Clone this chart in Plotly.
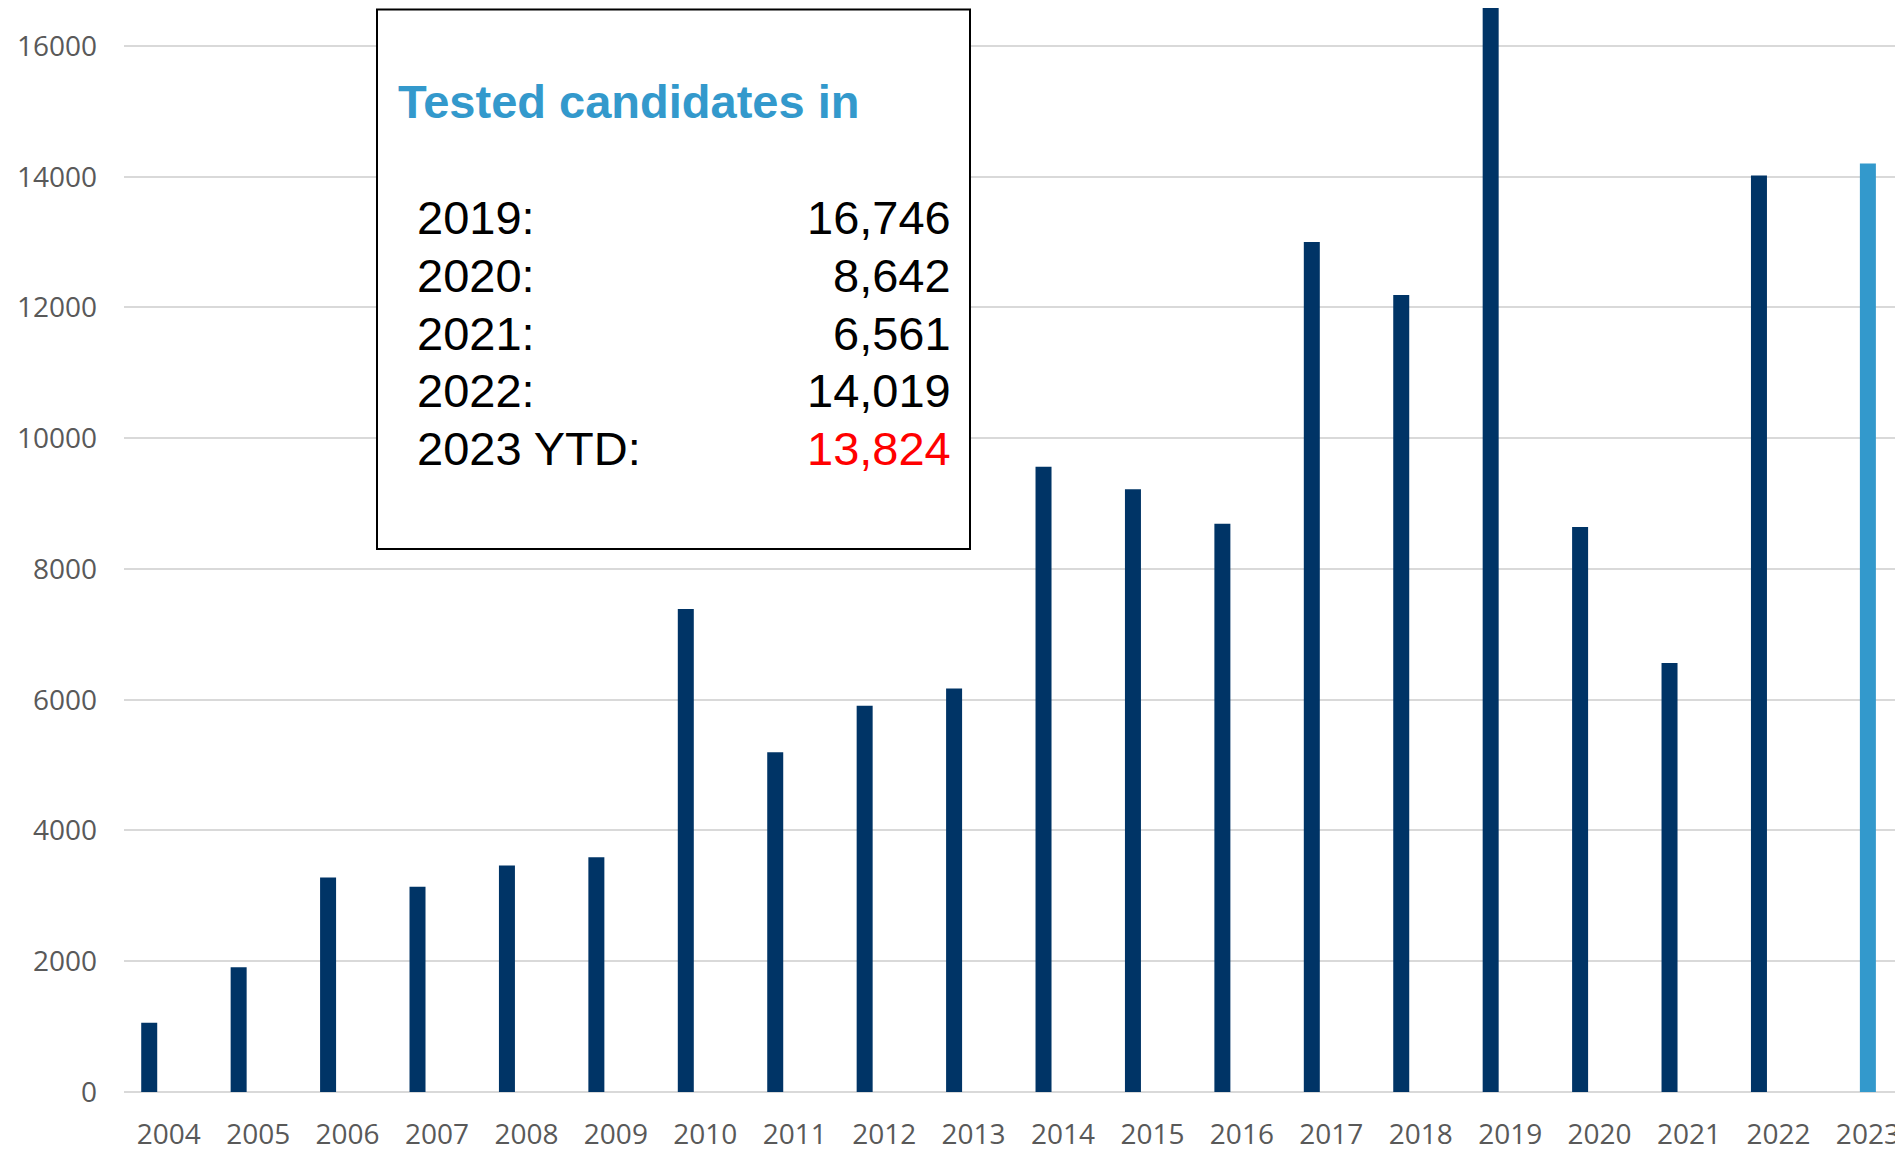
import plotly.graph_objects as go

# ---- data ----
years = [str(y) for y in range(2004, 2024)]
tested = [1058, 1908, 3282, 3139, 3466, 3592, 7389, 5195, 5908, 6172,
          9562, 9221, 8692, 13001, 12192, 16746, 8642, 6561, 14019, None]
ytd = [None] * 19 + [14200]
y_ticks = [0, 2000, 4000, 6000, 8000, 10000, 12000, 14000, 16000]

box_title = "Tested candidates in"
box_labels = ["2019:", "2020:", "2021:", "2022:", "2023 YTD:"]
box_values = ["16,746", "8,642", "6,561", "14,019", "13,824"]
box_value_colors = ["#000000", "#000000", "#000000", "#000000", "#FF0000"]

# ---- layout geometry (pixels) ----
OFF = 8  # default page body margin
W, H = 1903 - OFF, 1152 - OFF
ML, MR, MT, MB = 124 - OFF, 0, 0, 58
PW, PH = W - ML - MR, H - MT - MB
CAT_PX = 89.43
BAR_W = 16 / CAT_PX


def px_x(px):
    return (px - OFF - ML) / PW


def px_y(py):
    return (H - MB - (py - OFF)) / PH


fig = go.Figure()
fig.add_trace(go.Bar(x=years, y=tested, marker_color="#003466",
                     marker_line_width=0, width=BAR_W,
                     offset=-19.5 / CAT_PX - BAR_W / 2, name="Tested"))
fig.add_trace(go.Bar(x=years, y=ytd, marker_color="#3399CC",
                     marker_line_width=0, width=BAR_W,
                     offset=-BAR_W / 2, name="YTD"))

fig.update_layout(
    width=W, height=H,
    margin=dict(l=ML, r=MR, t=MT, b=MB, pad=0),
    plot_bgcolor="white", paper_bgcolor="white",
    showlegend=False, barmode="overlay",
    font=dict(family="Open Sans", color="#595959", size=28),
)
fig.update_xaxes(type="category", range=[-0.5, -0.5 + PW / CAT_PX],
                 showgrid=False, showline=False, ticks="", zeroline=False,
                 tickfont=dict(family="Open Sans", size=28, color="#595959"),
                 ticklabelstandoff=23)
fig.update_yaxes(range=[0, PH / 0.0655], tickvals=y_ticks,
                 ticktext=[str(v) for v in y_ticks],
                 showgrid=True, gridcolor="#D9D9D9", gridwidth=2,
                 zeroline=True, zerolinecolor="#D9D9D9", zerolinewidth=2,
                 showline=False, ticks="",
                 tickfont=dict(family="Open Sans", size=28, color="#595959"),
                 ticklabelstandoff=26)

# text box
fig.add_shape(type="rect", xref="paper", yref="paper",
              x0=px_x(377), x1=px_x(970), y0=px_y(550), y1=px_y(9.5),
              line=dict(color="black", width=2), fillcolor="white",
              layer="above")
fig.add_annotation(xref="paper", yref="paper", x=px_x(396), y=px_y(102),
                   xanchor="left", yanchor="middle", showarrow=False,
                   text="<b>" + box_title + "</b>",
                   font=dict(family="Liberation Sans", size=47, color="#3399CC"))
row_y = [218, 276, 334, 391, 449]
for lab, val, col, ry in zip(box_labels, box_values, box_value_colors, row_y):
    fig.add_annotation(xref="paper", yref="paper", x=px_x(415), y=px_y(ry),
                       xanchor="left", yanchor="middle", showarrow=False,
                       text=lab,
                       font=dict(family="Liberation Sans", size=47, color="#000000"))
    fig.add_annotation(xref="paper", yref="paper", x=px_x(953), y=px_y(ry),
                       xanchor="right", yanchor="middle", showarrow=False,
                       text=val,
                       font=dict(family="Liberation Sans", size=47, color=col))

fig.write_html("out.html")
